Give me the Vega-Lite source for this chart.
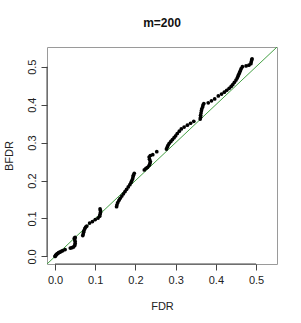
{
  "$schema": "https://vega.github.io/schema/vega-lite/v6.json",
  "autosize": {"type": "none"},
  "padding": {"left": 47, "top": 47, "right": 23, "bottom": 59},
  "width": 230,
  "height": 217,
  "background": "white",
  "config": {
    "view": {"stroke": "#9a9a9a", "strokeWidth": 1},
    "font": "Liberation Sans",
    "axis": {
      "grid": false,
      "domain": false,
      "tickColor": "#444444",
      "tickSize": 6,
      "tickWidth": 1,
      "labelFont": "Liberation Sans",
      "labelFontSize": 11,
      "labelColor": "#222222",
      "titleFont": "Liberation Sans",
      "titleFontSize": 11,
      "titleFontWeight": "normal",
      "titleColor": "#222222"
    }
  },
  "title": {"text": "m=200", "fontSize": 12, "fontWeight": "bold", "font": "Liberation Sans", "anchor": "middle", "offset": 17, "color": "#111111"},
  "datasets": {
    "pts": [
      {"FDR":0.000,"BFDR":0.000},{"FDR":0.001,"BFDR":0.002},{"FDR":0.002,"BFDR":0.003},{"FDR":0.003,"BFDR":0.005},{"FDR":0.005,"BFDR":0.007},{"FDR":0.007,"BFDR":0.008},{"FDR":0.009,"BFDR":0.010},{"FDR":0.012,"BFDR":0.011},{"FDR":0.015,"BFDR":0.013},{"FDR":0.019,"BFDR":0.015},{"FDR":0.025,"BFDR":0.018},
      {"FDR":0.038,"BFDR":0.022},{"FDR":0.042,"BFDR":0.023},{"FDR":0.046,"BFDR":0.025},{"FDR":0.049,"BFDR":0.029},{"FDR":0.050,"BFDR":0.034},{"FDR":0.050,"BFDR":0.039},{"FDR":0.049,"BFDR":0.044},{"FDR":0.048,"BFDR":0.048},{"FDR":0.050,"BFDR":0.050},
      {"FDR":0.069,"BFDR":0.055},{"FDR":0.070,"BFDR":0.059},{"FDR":0.071,"BFDR":0.064},{"FDR":0.072,"BFDR":0.068},{"FDR":0.074,"BFDR":0.073},{"FDR":0.076,"BFDR":0.077},{"FDR":0.079,"BFDR":0.080},
      {"FDR":0.086,"BFDR":0.088},{"FDR":0.093,"BFDR":0.092},{"FDR":0.100,"BFDR":0.097},{"FDR":0.107,"BFDR":0.101},{"FDR":0.111,"BFDR":0.106},{"FDR":0.112,"BFDR":0.111},{"FDR":0.113,"BFDR":0.116},{"FDR":0.113,"BFDR":0.121},{"FDR":0.112,"BFDR":0.125},
      {"FDR":0.153,"BFDR":0.131},{"FDR":0.154,"BFDR":0.136},{"FDR":0.156,"BFDR":0.142},{"FDR":0.159,"BFDR":0.148},{"FDR":0.162,"BFDR":0.153},{"FDR":0.166,"BFDR":0.159},{"FDR":0.170,"BFDR":0.165},{"FDR":0.174,"BFDR":0.171},{"FDR":0.178,"BFDR":0.177},{"FDR":0.182,"BFDR":0.183},{"FDR":0.186,"BFDR":0.189},{"FDR":0.189,"BFDR":0.195},{"FDR":0.191,"BFDR":0.200},{"FDR":0.193,"BFDR":0.205},{"FDR":0.194,"BFDR":0.210},{"FDR":0.195,"BFDR":0.214},{"FDR":0.197,"BFDR":0.219},
      {"FDR":0.222,"BFDR":0.228},{"FDR":0.226,"BFDR":0.232},{"FDR":0.230,"BFDR":0.235},{"FDR":0.234,"BFDR":0.240},{"FDR":0.236,"BFDR":0.245},{"FDR":0.237,"BFDR":0.250},{"FDR":0.235,"BFDR":0.256},{"FDR":0.234,"BFDR":0.262},{"FDR":0.237,"BFDR":0.266},{"FDR":0.243,"BFDR":0.268},{"FDR":0.253,"BFDR":0.276},
      {"FDR":0.277,"BFDR":0.283},{"FDR":0.279,"BFDR":0.288},{"FDR":0.281,"BFDR":0.293},{"FDR":0.284,"BFDR":0.298},{"FDR":0.288,"BFDR":0.303},{"FDR":0.292,"BFDR":0.308},{"FDR":0.296,"BFDR":0.313},{"FDR":0.300,"BFDR":0.318},{"FDR":0.304,"BFDR":0.324},{"FDR":0.309,"BFDR":0.330},{"FDR":0.314,"BFDR":0.336},{"FDR":0.321,"BFDR":0.341},{"FDR":0.329,"BFDR":0.346},{"FDR":0.337,"BFDR":0.351},{"FDR":0.345,"BFDR":0.356},
      {"FDR":0.361,"BFDR":0.362},{"FDR":0.362,"BFDR":0.367},{"FDR":0.362,"BFDR":0.372},{"FDR":0.363,"BFDR":0.378},{"FDR":0.364,"BFDR":0.384},{"FDR":0.365,"BFDR":0.389},{"FDR":0.367,"BFDR":0.394},{"FDR":0.368,"BFDR":0.399},{"FDR":0.370,"BFDR":0.403},
      {"FDR":0.381,"BFDR":0.405},{"FDR":0.389,"BFDR":0.410},{"FDR":0.397,"BFDR":0.415},{"FDR":0.406,"BFDR":0.423},{"FDR":0.414,"BFDR":0.428},{"FDR":0.421,"BFDR":0.433},{"FDR":0.427,"BFDR":0.438},{"FDR":0.433,"BFDR":0.443},{"FDR":0.438,"BFDR":0.448},{"FDR":0.442,"BFDR":0.453},{"FDR":0.446,"BFDR":0.459},{"FDR":0.450,"BFDR":0.465},{"FDR":0.453,"BFDR":0.470},{"FDR":0.455,"BFDR":0.475},{"FDR":0.457,"BFDR":0.480},{"FDR":0.459,"BFDR":0.485},{"FDR":0.461,"BFDR":0.490},{"FDR":0.463,"BFDR":0.495},{"FDR":0.466,"BFDR":0.500},{"FDR":0.475,"BFDR":0.502},{"FDR":0.482,"BFDR":0.504},{"FDR":0.487,"BFDR":0.508},{"FDR":0.488,"BFDR":0.513},{"FDR":0.489,"BFDR":0.518},{"FDR":0.490,"BFDR":0.521}
    ],
    "diag": [{"FDR": -0.02, "BFDR": -0.02}, {"FDR": 0.552, "BFDR": 0.552}],
    "xaxis": [{"x": 0, "x2": 0.5, "y": -0.02}],
    "yaxis": [{"y": 0, "y2": 0.5, "x": -0.02}]
  },
  "layer": [
    {
      "data": {"name": "diag"},
      "mark": {"type": "line", "color": "#44a044", "strokeWidth": 1, "clip": true},
      "encoding": {
        "x": {"field": "FDR", "type": "quantitative", "scale": {"domain": [-0.02, 0.552], "nice": false, "zero": false},
              "axis": {"values": [0, 0.1, 0.2, 0.3, 0.4, 0.5], "format": ".1f", "title": "FDR", "labelPadding": 4, "titlePadding": 15}},
        "y": {"field": "BFDR", "type": "quantitative", "scale": {"domain": [-0.02, 0.552], "nice": false, "zero": false},
              "axis": {"values": [0, 0.1, 0.2, 0.3, 0.4, 0.5], "format": ".1f", "title": "BFDR", "labelAngle": -90, "labelAlign": "center", "labelBaseline": "bottom", "labelPadding": 4, "titlePadding": 12}}
      }
    },
    {
      "data": {"name": "xaxis"},
      "mark": {"type": "rule", "color": "#444444", "strokeWidth": 1},
      "encoding": {"x": {"field": "x", "type": "quantitative"}, "x2": {"field": "x2"}, "y": {"field": "y", "type": "quantitative"}}
    },
    {
      "data": {"name": "yaxis"},
      "mark": {"type": "rule", "color": "#444444", "strokeWidth": 1},
      "encoding": {"y": {"field": "y", "type": "quantitative"}, "y2": {"field": "y2"}, "x": {"field": "x", "type": "quantitative"}}
    },
    {
      "data": {"name": "pts"},
      "mark": {"type": "circle", "color": "black", "size": 14, "opacity": 1},
      "encoding": {
        "x": {"field": "FDR", "type": "quantitative"},
        "y": {"field": "BFDR", "type": "quantitative"}
      }
    }
  ]
}
